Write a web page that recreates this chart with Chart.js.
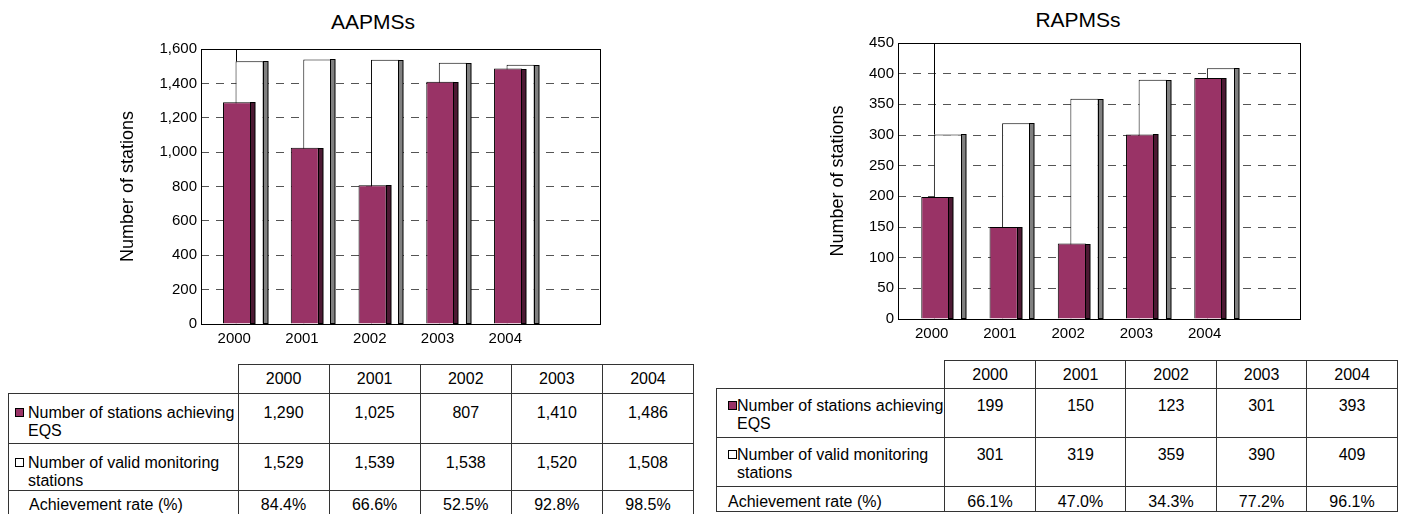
<!DOCTYPE html>
<html>
<head>
<meta charset="utf-8">
<script src="https://cdn.jsdelivr.net/npm/chart.js@4.4.1/dist/chart.umd.min.js"></script>
<style>
   body {
      margin: 0;
      width: 1401px;
      height: 514px;
      position: relative;
      overflow: hidden;
      background: #fff;
      color: #000;
      font-family: 'Liberation Sans', Arial, sans-serif;
   }

   .chart-title {
      position: absolute;
      width: 200px;
      text-align: center;
      font-size: 21px;
      line-height: 24px;
   }

   .chart-box {
      position: absolute;
      top: 0;
   }

   table {
      position: absolute;
      border-collapse: collapse;
      table-layout: fixed;
      font-size: 16px;
      line-height: 18px;
   }

   td {
      border: 1px solid #333;
      padding: 0;
      text-align: center;
      vertical-align: top;
      white-space: nowrap;
   }

   td.corner {
      border-top: none;
      border-left: none;
   }

   tr.head td {
      vertical-align: middle;
   }

   td.label {
      text-align: left;
   }

   .lab {
      position: relative;
   }

   .sq {
      position: absolute;
      width: 7px;
      height: 7px;
      border: 1px solid #000;
   }
</style>
</head>
<body>

<div class="chart-title" style="left:273px; top:10px;">AAPMSs</div>
<div class="chart-title" style="left:978px; top:8px;">RAPMSs</div>

<div class="chart-box" style="left:100px; width:510px; height:352px;"><canvas id="aapms"></canvas></div>
<div class="chart-box" style="left:810px; width:500px; height:346px;"><canvas id="rapms"></canvas></div>

<table id="aapms-table" style="left:8px; top:364px;"></table>
<table id="rapms-table" style="left:716px; top:360px;"></table>

<script>
// data

const years = [2000, 2001, 2002, 2003, 2004];

const aaAchieving = [1290, 1025, 807, 1410, 1486];
const aaValid = [1529, 1539, 1538, 1520, 1508];
const aaRate = ['84.4%', '66.6%', '52.5%', '92.8%', '98.5%'];
const aaYMax = 1600;
const aaYStep = 200;

const raAchieving = [199, 150, 123, 301, 393];
const raValid = [301, 319, 359, 390, 409];
const raRate = ['66.1%', '47.0%', '34.3%', '77.2%', '96.1%'];
const raYMax = 450;
const raYStep = 50;

const rowNames = ['Number of stations achieving<br>EQS', 'Number of valid monitoring<br>stations', 'Achievement rate (%)'];

const plum = '#993366';
const plumSide = '#4c1933';
const greySide = '#808080';
const fontName = "'Liberation Sans', Arial, sans-serif";


//3d side strip of the bars + odd line above the first white bar

const barSides = {
   id: 'barSides',
   afterDatasetDraw(chart, args) {
      const ds = chart.data.datasets[args.index];
      const ctx = chart.ctx;
      ctx.save();
      ctx.lineWidth = 1;
      ctx.strokeStyle = '#000';
      args.meta.data.forEach((bar, i) => {
         const p = bar.getProps(['x', 'y', 'base', 'width'], true);
         const right = Math.round(p.x + p.width / 2) - 0.5;
         const top = Math.round(p.y) + 0.5;
         const h = p.base - top;
         ctx.fillStyle = ds.sideColor;
         ctx.fillRect(right, top, 4.5, h);
         ctx.strokeRect(right, top, 4.5, h);
         if (ds.leaderLine && i === 0) {
            const left = Math.round(p.x - p.width / 2) + 0.5;
            ctx.beginPath();
            ctx.moveTo(left, chart.chartArea.top);
            ctx.lineTo(left, top);
            ctx.stroke();
         }
      });
      ctx.restore();
   }
};

//plot frame

const plotBox = {
   id: 'plotBox',
   beforeDatasetsDraw(chart) {
      const a = chart.chartArea;
      const ctx = chart.ctx;
      ctx.save();
      ctx.strokeStyle = '#000';
      ctx.lineWidth = 1;
      ctx.strokeRect(Math.round(a.left) + 0.5, Math.round(a.top) + 0.5,
         Math.round(a.right - a.left), Math.round(a.bottom - a.top));
      ctx.restore();
   }
};


function makeChart(id, achieving, valid, cfg) {
   const ctx = document.getElementById(id).getContext('2d');
   return new Chart(ctx, {
      type: 'bar',
      data: {
         datasets: [
            {
               label: 'Number of stations achieving EQS',
               data: years.map((yr, i) => ({ x: yr, y: achieving[i] })),
               backgroundColor: plum,
               borderColor: '#000',
               borderWidth: 1,
               sideColor: plumSide,
               order: 0,
            },
            {
               label: 'Number of valid monitoring stations',
               data: years.map((yr, i) => ({ x: yr, y: valid[i] })),
               backgroundColor: '#fff',
               borderColor: '#000',
               borderWidth: 1,
               sideColor: greySide,
               leaderLine: true,
               order: 1,
            },
         ],
      },
      options: {
         responsive: true,
         maintainAspectRatio: false,
         animation: false,
         devicePixelRatio: 1,
         categoryPercentage: 0.369,
         barPercentage: 2.24,
         layout: {
            padding: { top: cfg.top, right: 10, bottom: 0, left: 0 },
         },
         scales: {
            x: {
               type: 'linear',
               offset: false,
               min: cfg.xMin,
               max: cfg.xMax,
               grid: { display: false, drawTicks: false },
               border: { display: false },
               ticks: {
                  stepSize: 1,
                  includeBounds: false,
                  padding: 6,
                  labelOffset: cfg.labelOffset,
                  color: '#000',
                  font: { family: fontName, size: 15 },
                  callback: (v) => String(v),
               },
               afterBuildTicks: (s) => {
                  s.ticks = s.ticks.filter(t => years.includes(t.value));
               },
               afterFit: (s) => { s.height = cfg.xHeight; },
            },
            y: {
               min: 0,
               max: cfg.yMax,
               grid: { color: '#555', drawTicks: false },
               border: { display: false, dash: [8, 7] },
               ticks: {
                  stepSize: cfg.yStep,
                  padding: 4,
                  color: '#000',
                  font: { family: fontName, size: 15 },
                  callback: (v) => v.toLocaleString('en-US'),
               },
               title: {
                  display: true,
                  text: 'Number of stations',
                  color: '#000',
                  font: { family: fontName, size: 18 },
                  padding: { top: 17, bottom: 0 },
               },
               afterFit: (s) => { s.width = cfg.yWidth; },
            },
         },
         plugins: {
            legend: false,
            tooltip: { enabled: false },
         },
      },
      plugins: [plotBox, barSides],
   });
}

makeChart('aapms', aaAchieving, aaValid, {
   top: 49, xHeight: 28, yWidth: 101,
   xMin: 1999.376, xMax: 2005.265, labelOffset: -9,
   yMax: aaYMax, yStep: aaYStep,
});

makeChart('rapms', raAchieving, raValid, {
   top: 43, xHeight: 27, yWidth: 88,
   xMin: 1999.36, xMax: 2005.25, labelOffset: -10,
   yMax: raYMax, yStep: raYStep,
});


//data tables under the charts

function fillTable(id, rows, lay) {
   const table = document.getElementById(id);
   let html = '<colgroup><col style="width:' + lay.labelW + 'px">';
   years.forEach(() => { html += '<col style="width:' + lay.colW + 'px">'; });
   html += '</colgroup>';

   html += '<tr class="head" style="height:' + lay.heights[0] + 'px"><td class="corner"></td>';
   years.forEach(yr => { html += '<td>' + yr + '</td>'; });
   html += '</tr>';

   rows.forEach((vals, r) => {
      const last = r === rows.length - 1;
      const pad = last ? lay.lastPad : lay.pad;
      html += '<tr style="height:' + lay.heights[r + 1] + 'px">';
      if (r < 2) {
         const fill = r === 0 ? plum : '#fff';
         html += '<td class="label" style="padding-top:' + pad + 'px"><div class="lab" style="padding-left:' + lay.textLeft + 'px">' +
            '<span class="sq" style="left:' + lay.sqLeft + 'px; top:4px; background:' + fill + '"></span>' +
            rowNames[r] + '</div></td>';
      } else {
         html += '<td class="label" style="padding-top:' + pad + 'px; padding-left:' + lay.rateLeft + 'px">' + rowNames[r] + '</td>';
      }
      vals.forEach(v => { html += '<td style="padding-top:' + pad + 'px">' + v + '</td>'; });
      html += '</tr>';
   });
   table.innerHTML = html;
}

fillTable('aapms-table', [
   aaAchieving.map(v => v.toLocaleString('en-US')),
   aaValid.map(v => v.toLocaleString('en-US')),
   aaRate,
], { labelW: 229.5, colW: 91.1, heights: [29, 50, 47, 26], pad: 10, lastPad: 5, sqLeft: 6, textLeft: 19, rateLeft: 20 });

fillTable('rapms-table', [
   raAchieving.map(v => v.toLocaleString('en-US')),
   raValid.map(v => v.toLocaleString('en-US')),
   raRate,
], { labelW: 228.3, colW: 90.5, heights: [28, 49, 49, 24], pad: 8, lastPad: 6, sqLeft: 11, textLeft: 20, rateLeft: 11 });
</script>
</body>
</html>
